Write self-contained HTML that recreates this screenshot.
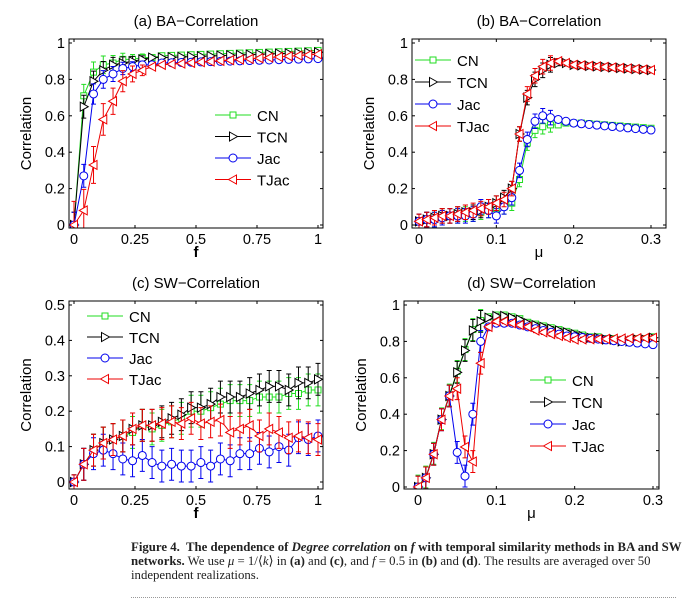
<!DOCTYPE html>
<html><head><meta charset="utf-8"><style>
body{margin:0;background:#fff;width:694px;height:603px;overflow:hidden;position:relative}
svg{position:absolute;left:0;top:0}
.cap{position:absolute;left:131px;top:540px;width:563px;font:12.8px/14px "Liberation Serif",serif;color:#222;white-space:nowrap}
</style></head><body>
<svg id="s" width="694" height="603" xmlns="http://www.w3.org/2000/svg" font-family="Liberation Sans, sans-serif"></svg>
<div class="cap"><b>Figure 4.&nbsp; The dependence of <i>Degree correlation</i> on <i>f</i> with temporal similarity methods in BA and SW</b><br><b>networks.</b> We use <i>μ</i> = 1/⟨<i>k</i>⟩ in <b>(a)</b> and <b>(c)</b>, and <i>f</i> = 0.5 in <b>(b)</b> and <b>(d)</b>. The results are averaged over 50<br>independent realizations.</div>
<div style="position:absolute;left:131px;top:597px;width:545px;border-top:1px dotted #999"></div>
<script>
const S=document.getElementById('s');let h='';
const C={CN:'#22dd22',TCN:'#000',Jac:'#0000ee',TJac:'#ee0000'};
function mk(t,x,y,c){
 if(t=='CN')return `<rect x="${x-3}" y="${y-3}" width="6" height="6" fill="#fff" stroke="${c}"/>`;
 if(t=='Jac')return `<circle cx="${x}" cy="${y}" r="4" fill="#fff" stroke="${c}"/>`;
 if(t=='TCN')return `<polygon points="${x-3.5},${y-4.5} ${x+4.5},${y} ${x-3.5},${y+4.5}" fill="#fff" stroke="${c}"/>`;
 return `<polygon points="${x+3.5},${y-4.5} ${x-4.5},${y} ${x+3.5},${y+4.5}" fill="#fff" stroke="${c}"/>`;}
function panel(p){
 const {bx0,bx1,by0,by1,x0,x1,xv0,xv1,y0,y1,yv0,yv1,xt,yt,title,xl,series,leg,err}=p;
 const X=v=>x0+(v-xv0)/(xv1-xv0)*(x1-x0), Y=v=>y0+(v-yv0)/(yv1-yv0)*(y1-y0);
 h+=`<text x="${(bx0+bx1)/2}" y="${by0-13}" font-size="15" text-anchor="middle">${title}</text>`;
 h+=`<text x="${(bx0+bx1)/2}" y="${by1+29}" font-size="15" font-weight="${xl=='f'?'bold':'normal'}" text-anchor="middle">${xl}</text>`;
 h+=`<text transform="translate(${bx0-38},${(by0+by1)/2}) rotate(-90)" font-size="15" text-anchor="middle">Correlation</text>`;
 xt.forEach(([v,l])=>{h+=`<text x="${X(v)}" y="${by1+16}" font-size="14.5" text-anchor="middle">${l}</text><line x1="${X(v)}" x2="${X(v)}" y1="${by1}" y2="${by1-3}" stroke="#000"/><line x1="${X(v)}" x2="${X(v)}" y1="${by0}" y2="${by0+3}" stroke="#000"/>`});
 yt.forEach(([v,l])=>{h+=`<text x="${bx0-4}" y="${Y(v)+5}" font-size="14.5" text-anchor="end">${l}</text><line x1="${bx0}" x2="${bx0+3}" y1="${Y(v)}" y2="${Y(v)}" stroke="#000"/><line x1="${bx1}" x2="${bx1-3}" y1="${Y(v)}" y2="${Y(v)}" stroke="#000"/>`});
 h+=`<svg x="${bx0}" y="${by0}" width="${bx1-bx0}" height="${by1-by0}" overflow="hidden"><g transform="translate(${-bx0},${-by0})">`;
 ['CN','TCN','Jac','TJac'].forEach(k=>{const d=series[k],c=C[k],n=d.length;
  const xs=d.map((_,i)=>xv0+i*(xv1-xv0)/(n-1));
  d.forEach((v,i)=>{const e=err(k,xs[i],v);if(e>0.003){const x=X(xs[i]);h+=`<path d="M${x},${Y(v-e)}V${Y(v+e)}M${x-2.5},${Y(v-e)}h5M${x-2.5},${Y(v+e)}h5" stroke="${c}" fill="none"/>`}});
  h+=`<polyline points="${d.map((v,i)=>X(xs[i])+','+Y(v)).join(' ')}" fill="none" stroke="${c}"/>`;
  d.forEach((v,i)=>h+=mk(k,X(xs[i]),Y(v),c));});
 h+=`</g></svg><rect x="${bx0}" y="${by0}" width="${bx1-bx0}" height="${by1-by0}" fill="none" stroke="#000"/>`;
 ['CN','TCN','Jac','TJac'].forEach((k,i)=>{const y=leg[1]+i*leg[2],c=C[k];
  h+=`<line x1="${leg[0]}" x2="${leg[0]+36}" y1="${y}" y2="${y}" stroke="${c}"/>`+mk(k,leg[0]+18,y,c)+`<text x="${leg[0]+42}" y="${y+6}" font-size="15">${k}</text>`;});
}
function fill(a,n,end){const r=a.slice();while(r.length<n){const l=r[r.length-1];r.push(l+(end-l)/(n-r.length+0.5))}return r}
const ft=[[0,'0'],[0.25,'0.25'],[0.5,'0.5'],[0.75,'0.75'],[1,'1']];
const y1t=[[0,'0'],[0.2,'0.2'],[0.4,'0.4'],[0.6,'0.6'],[0.8,'0.8'],[1,'1']];
const mt=[[0,'0'],[0.1,'0.1'],[0.2,'0.2'],[0.3,'0.3']];
panel({bx0:69,bx1:323,by0:39,by1:228,x0:74,x1:318,xv0:0,xv1:1,y0:225,y1:43,yv0:0,yv1:1,xt:ft,yt:y1t,title:'(a) BA−Correlation',xl:'f',leg:[215,115,21.5],
 series:{CN:fill([0,0.71,0.84,0.88,0.89,0.91,0.91,0.92,0.92,0.93],26,0.96),TCN:fill([0,0.65,0.79,0.85,0.88,0.89,0.9,0.91,0.92,0.92],26,0.95),
 Jac:fill([0,0.27,0.72,0.8,0.83,0.86,0.87,0.88,0.88,0.89],26,0.915),TJac:fill([0,0.08,0.33,0.58,0.68,0.79,0.83,0.85,0.87,0.88],26,0.94)},
 err:(k,x,v)=>x<0.3?(k=='TJac'?0.12:0.06)*(1-x*3)+0.01:0.005});
panel({bx0:412,bx1:666,by0:39,by1:228,x0:419,x1:651,xv0:0,xv1:0.3,y0:225,y1:43,yv0:0,yv1:1,xt:mt,yt:y1t,title:'(b) BA−Correlation',xl:'μ',leg:[415,60,22],
 series:{CN:fill([0.02,0.03,0.03,0.04,0.05,0.05,0.06,0.06,0.07,0.08,0.09,0.1,0.12,0.25,0.45,0.52,0.54,0.55,0.55,0.56,0.56,0.56],31,0.53),
 TCN:fill([0.02,0.03,0.04,0.05,0.05,0.06,0.07,0.07,0.08,0.1,0.12,0.15,0.2,0.5,0.7,0.8,0.85,0.88,0.89,0.89,0.88],31,0.85),
 Jac:fill([0.02,0.03,0.03,0.04,0.05,0.05,0.05,0.06,0.1,0.08,0.05,0.1,0.15,0.3,0.47,0.57,0.6,0.59,0.58,0.57,0.56],31,0.52),
 TJac:fill([0.02,0.03,0.04,0.05,0.05,0.06,0.07,0.08,0.09,0.1,0.12,0.14,0.2,0.5,0.72,0.82,0.87,0.89,0.9,0.89,0.88],31,0.85)},
 err:(k,x,v)=>x<0.17?0.04:0.015});
panel({bx0:69,bx1:323,by0:301,by1:489,x0:74,x1:318,xv0:0,xv1:1,y0:482,y1:305,yv0:0,yv1:0.5,xt:ft,yt:[[0,'0'],[0.1,'0.1'],[0.2,'0.2'],[0.3,'0.3'],[0.4,'0.4'],[0.5,'0.5']],title:'(c) SW−Correlation',xl:'f',leg:[87,316,21],
 series:{CN:[0,0.05,0.09,0.11,0.12,0.13,0.14,0.16,0.15,0.16,0.17,0.18,0.2,0.2,0.21,0.22,0.23,0.23,0.23,0.24,0.24,0.24,0.25,0.25,0.26,0.26],
 TCN:[0,0.05,0.09,0.11,0.12,0.13,0.15,0.16,0.16,0.17,0.18,0.19,0.21,0.21,0.22,0.24,0.24,0.24,0.25,0.26,0.27,0.27,0.26,0.28,0.28,0.29],
 Jac:[0,0.05,0.08,0.09,0.08,0.065,0.06,0.075,0.055,0.045,0.05,0.045,0.045,0.055,0.045,0.065,0.06,0.08,0.08,0.095,0.085,0.1,0.09,0.125,0.12,0.13],
 TJac:[0,0.05,0.09,0.11,0.12,0.13,0.15,0.16,0.16,0.165,0.17,0.165,0.18,0.165,0.17,0.175,0.14,0.15,0.16,0.13,0.15,0.14,0.125,0.13,0.125,0.12]},
 err:(k,x,v)=>x==0?0.02:0.045});
const dT=[0,0.05,0.18,0.37,0.5,0.63,0.75,0.86,0.91,0.93,0.94,0.94,0.93,0.92,0.9,0.89,0.88,0.87,0.86,0.85,0.84,0.83,0.82,0.82,0.81,0.81,0.8,0.8,0.81,0.81,0.82];
panel({bx0:404,bx1:659,by0:301,by1:489,x0:418,x1:653,xv0:0,xv1:0.3,y0:487,y1:305,yv0:0,yv1:1,xt:mt,yt:y1t,title:'(d) SW−Correlation',xl:'μ',leg:[530,380,22],
 series:{CN:dT.map(v=>v+0.005),TCN:dT,Jac:fill([0,0.05,0.18,0.37,0.5,0.19,0.06,0.4,0.8,0.88,0.9,0.9,0.9,0.89,0.88,0.87,0.86,0.85,0.84,0.83],31,0.78),
 TJac:fill([0,0.05,0.18,0.37,0.5,0.54,0.22,0.14,0.68,0.88,0.91,0.91,0.9,0.89,0.88,0.86,0.85,0.84,0.83,0.82,0.81],31,0.82)},
 err:(k,x,v)=>x<0.09?0.06:0.012});
S.innerHTML=h;
</script>
</body></html>
